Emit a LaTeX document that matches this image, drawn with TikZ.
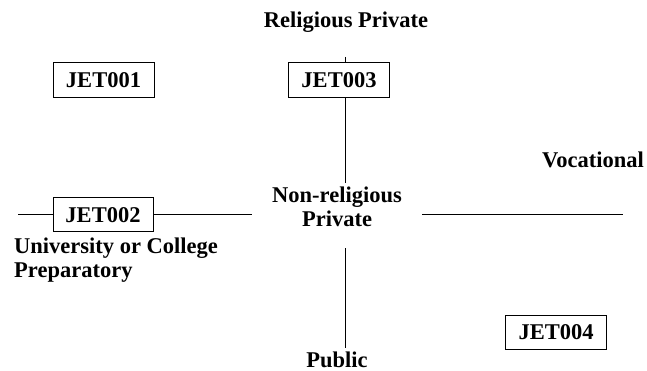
\documentclass[tikz,border=0pt]{standalone}
\usepackage{fontspec}
\setmainfont{Liberation Serif}
\begin{document}
\begin{tikzpicture}[x=1pt,y=-1pt,
  font=\bfseries\fontsize{22.5}{24}\selectfont,
  lbl/.style={inner sep=0pt},
  jet/.style={draw, line width=1pt, minimum width=101pt, minimum height=35pt, inner sep=0pt},
  conn/.style={line width=1pt}]
\useasboundingbox (0,0) rectangle (647,371);
% labels
\node[lbl, anchor=base] (rp) at (346,27.5) {Religious Private};
\node[lbl, anchor=base] (voc) at (593,168) {Vocational};
\node[lbl, anchor=base] (pub) at (337,367.5) {Public};
\node[lbl, align=center] (nrp) at (337,207) {Non-religious\\Private};
\node[lbl, anchor=north west, align=left] (univ) at (14,238) {University or College\\Preparatory};
% boxes
\node[jet] (j1) at (103.5,80.5) {JET001};
\node[jet] (j3) at (339,80.5) {JET003};
\node[jet, minimum width=100pt, minimum height=34pt] (j2) at (103,215) {JET002};
\node[jet, minimum height=34pt] (j4) at (556,332) {JET004};
% connector ends
\coordinate (tT) at (345,57);
\coordinate (nT) at (345,183);
\coordinate (nB) at (345,248);
\coordinate (pT) at (345,348);
\coordinate (lL) at (18,214.5);
\coordinate (nL) at (252,214.5);
\coordinate (nR) at (422,214.5);
\coordinate (vR) at (623,214.5);
% connectors
\draw[conn] (tT) -- (j3.north -| tT);
\draw[conn] (j3.south -| tT) -- (nT);
\draw[conn] (nB) -- (pT);
\draw[conn] (lL) -- (j2.west |- lL);
\draw[conn] (j2.east |- lL) -- (nL);
\draw[conn] (nR) -- (vR);
\end{tikzpicture}
\end{document}
